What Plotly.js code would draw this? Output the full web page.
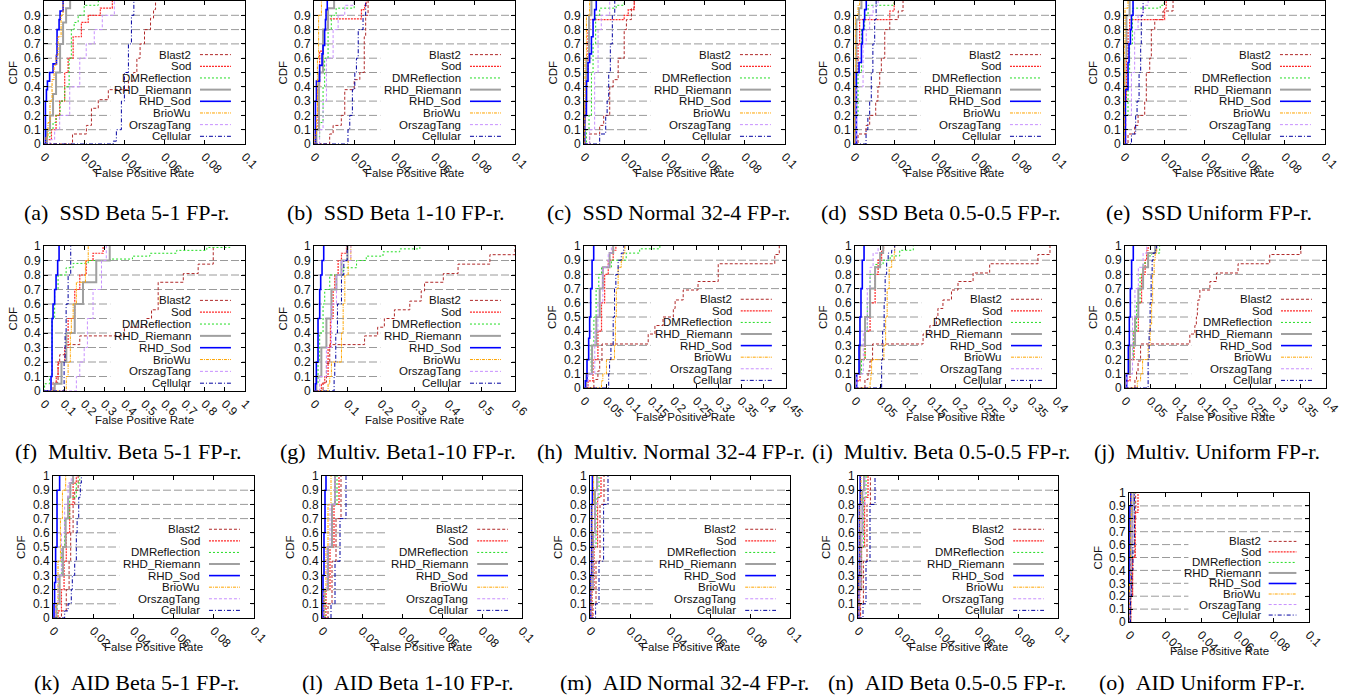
<!DOCTYPE html>
<html><head><meta charset="utf-8">
<script src="https://cdn.plot.ly/plotly-3.0.1.min.js"></script>
<style>html,body{margin:0;padding:0;background:#fff}#chart{width:1359px;height:698px}</style>
</head><body><div id="chart"></div>
<script>
// ---------------- DATA ----------------
const seriesNames = ['Blast2','Sod','DMReflection','RHD_Riemann','RHD_Sod','BrioWu','OrszagTang','Cellular'];
const captions = [
 '(a)\u00a0\u00a0SSD Beta 5-1 FP-r.','(b)\u00a0\u00a0SSD Beta 1-10 FP-r.','(c)\u00a0\u00a0SSD Normal 32-4 FP-r.','(d)\u00a0\u00a0SSD Beta 0.5-0.5 FP-r.','(e)\u00a0\u00a0SSD Uniform FP-r.',
 '(f)\u00a0\u00a0Multiv. Beta 5-1 FP-r.','(g)\u00a0\u00a0Multiv. Beta1-10 FP-r.','(h)\u00a0\u00a0Multiv. Normal 32-4 FP-r.','(i)\u00a0\u00a0Multiv. Beta 0.5-0.5 FP-r.','(j)\u00a0\u00a0Multiv. Uniform FP-r.',
 '(k)\u00a0\u00a0AID Beta 5-1 FP-r.','(l)\u00a0\u00a0AID Beta 1-10 FP-r.','(m)\u00a0\u00a0AID Normal 32-4 FP-r.','(n)\u00a0\u00a0AID Beta 0.5-0.5 FP-r.','(o)\u00a0\u00a0AID Uniform FP-r.'];
const xAxisMax = [0.1,0.1,0.1,0.1,0.1, 1,0.6,0.45,0.4,0.4, 0.1,0.1,0.1,0.1,0.1];
const xTickStep = [0.02,0.02,0.02,0.02,0.02, 0.1,0.1,0.05,0.05,0.05, 0.02,0.02,0.02,0.02,0.02];
const yTickStep = 0.1;
const xTitle = 'False Positive Rate';
const yTitle = 'CDF';

// Each panel: x and y arrays per series, in order of seriesNames
const aX = [
 [0,0.0142,0.0211,0.0236,0.027,0.032,0.042,0.0445,0.0462,0.0478,0.050,0.053,0.0545,0.0555],
 [0,0.001,0.0037,0.006,0.0078,0.0103,0.012,0.0145,0.0186,0.022,0.028,0.034],
 [0,0.001,0.003,0.0045,0.006,0.008,0.0103,0.0125,0.0136,0.015,0.017,0.02,0.027],
 [0,0.0015,0.003,0.0045,0.006,0.008,0.0095,0.011,0.013],
 [0,0.0007,0.0012,0.0017,0.0028,0.0045,0.0062,0.0065,0.0075,0.008,0.0095],
 [0,0.001,0.002,0.003,0.004,0.005,0.006,0.007,0.0085,0.0095],
 [0,0.003,0.0053,0.0078,0.0128,0.0178,0.021,0.025,0.029,0.035],
 [0,0.0344,0.036,0.0385,0.040,0.042,0.0435,0.0447]];
const aY = [
 [0,0.07,0.13,0.25,0.31,0.38,0.44,0.5,0.6,0.7,0.8,0.88,0.94,1],
 [0,0.03,0.1,0.2,0.3,0.5,0.6,0.75,0.85,0.9,0.95,1],
 [0,0.05,0.1,0.15,0.2,0.3,0.4,0.6,0.8,0.85,0.9,0.97,1],
 [0,0.1,0.2,0.35,0.5,0.7,0.85,0.95,1],
 [0,0.3,0.38,0.44,0.5,0.56,0.62,0.8,0.87,0.93,1],
 [0,0.05,0.15,0.3,0.45,0.55,0.62,0.75,0.9,1],
 [0,0.03,0.1,0.2,0.4,0.6,0.7,0.8,0.9,1],
 [0,0.02,0.1,0.3,0.5,0.7,0.9,1]];

const bX = [
 [0,0.0078,0.0095,0.0136,0.0153,0.020,0.0228,0.025,0.0257,0.0269],
 [0,0.0007,0.002,0.0028,0.0045,0.007,0.0236,0.0252,0.026],
 [0,0.0012,0.0028,0.0045,0.0053,0.007,0.0086,0.011,0.020],
 [0,0.0012,0.0025,0.0045,0.007,0.010],
 [0,0.0007,0.0012,0.0028,0.004,0.0045,0.0053,0.0057,0.006,0.0066],
 [0,0.0005,0.0012,0.0017,0.0023,0.0037],
 [0,0.0028,0.0045,0.0062,0.0095,0.012,0.0153,0.020],
 [0,0.0169,0.0178,0.0191,0.0203,0.0211,0.022,0.0244,0.0257]];
const bY = [
 [0,0.07,0.13,0.2,0.38,0.45,0.5,0.75,0.9,1],
 [0,0.1,0.4,0.65,0.8,0.875,0.94,0.97,1],
 [0,0.05,0.15,0.4,0.6,0.8,0.9,0.95,1],
 [0,0.1,0.5,0.8,0.95,1],
 [0,0.3,0.44,0.55,0.63,0.69,0.8,0.87,0.94,1],
 [0,0.07,0.2,0.6,0.9,1],
 [0,0.1,0.3,0.6,0.8,0.9,0.97,1],
 [0,0.1,0.2,0.38,0.5,0.6,0.8,0.9,1]];

const cX = [
 [0,0.0028,0.0078,0.0098,0.0128,0.0145,0.017,0.020,0.0211,0.0236,0.025],
 [0,0.0001,0.0007,0.0012,0.002,0.0028,0.020,0.022,0.025],
 [0,0.0012,0.0025,0.0037,0.0045,0.0058,0.0078,0.016,0.020],
 [0,0.0003,0.0012,0.0025,0.0037],
 [0,0.0003,0.0012,0.002,0.0028,0.0037,0.0045,0.0053,0.0061],
 [0,0.0002,0.0005,0.0012,0.0028],
 [0,0.0028,0.0053,0.007,0.0086,0.0128],
 [0,0.0078,0.0108,0.0115,0.0123,0.0131,0.0141,0.0153]];
const cY = [
 [0,0.07,0.13,0.2,0.4,0.45,0.6,0.8,0.87,0.95,1],
 [0,0.15,0.3,0.5,0.8,0.87,0.9,0.94,1],
 [0,0.1,0.2,0.5,0.7,0.9,0.95,0.97,1],
 [0,0.3,0.6,0.9,1],
 [0,0.2,0.44,0.57,0.63,0.75,0.87,0.94,1],
 [0,0.3,0.6,0.9,1],
 [0,0.1,0.5,0.8,0.9,1],
 [0,0.07,0.2,0.3,0.5,0.7,0.9,1]];

const dX = [
 [0,0.002,0.006,0.0078,0.0108,0.0119,0.0128,0.0136,0.0153,0.0178,0.022,0.0244],
 [0,0.0003,0.0012,0.002,0.0028,0.0178,0.020],
 [0,0.0003,0.0012,0.002,0.0037,0.0053,0.007,0.020],
 [0,0.0003,0.0012,0.0025,0.0037],
 [0,0.0012,0.0025,0.0037,0.0042,0.0048,0.0053,0.0061],
 [0,0.0002,0.0007,0.002,0.0028],
 [0,0.0012,0.0045,0.0061,0.0078,0.0095,0.012],
 [0,0.006,0.0069,0.0078,0.0086,0.0094,0.0103,0.011]];
const dY = [
 [0,0.07,0.13,0.2,0.3,0.4,0.5,0.6,0.8,0.87,0.93,1],
 [0,0.2,0.5,0.7,0.87,0.93,1],
 [0,0.1,0.2,0.5,0.8,0.9,0.97,1],
 [0,0.5,0.87,0.95,1],
 [0,0.5,0.57,0.7,0.8,0.87,0.94,1],
 [0,0.5,0.9,0.97,1],
 [0,0.4,0.7,0.8,0.9,0.97,1],
 [0,0.1,0.2,0.3,0.5,0.7,0.87,1]];

const eX = [
 [0,0.002,0.0053,0.007,0.0103,0.0111,0.0128,0.0136,0.0153,0.0194,0.0244],
 [0,0.0003,0.0012,0.002,0.0028,0.0202,0.021],
 [0,0.0008,0.002,0.0028,0.0042,0.018,0.020],
 [0,0.0003,0.0012,0.0028],
 [0,0.0007,0.002,0.0025,0.0032,0.0037,0.0045],
 [0,0.0002,0.0005,0.002],
 [0,0.0012,0.0037,0.0053,0.007,0.0095,0.012],
 [0,0.0037,0.0058,0.0065,0.0075,0.0083,0.0086,0.0095]];
const eY = [
 [0,0.07,0.13,0.2,0.3,0.5,0.6,0.8,0.87,0.93,1],
 [0,0.3,0.6,0.8,0.87,0.95,1],
 [0,0.2,0.5,0.7,0.95,0.97,1],
 [0,0.6,0.9,1],
 [0,0.38,0.57,0.7,0.8,0.9,1],
 [0,0.7,0.95,1],
 [0,0.2,0.5,0.8,0.9,0.97,1],
 [0,0.07,0.2,0.3,0.5,0.7,0.9,1]];

const fX = [
 [0,0.045,0.07,0.078,0.111,0.178,0.40,0.51,0.535,0.568,0.693,0.767,0.842],
 [0,0.053,0.061,0.07,0.103,0.12,0.153,0.178,0.21,0.244,0.294],
 [0,0.003,0.028,0.04,0.053,0.07,0.11,0.145,0.22,0.33,0.44,0.527,0.66,0.81,0.925],
 [0,0.053,0.087,0.111,0.153,0.194,0.26,0.327],
 [0,0.035,0.04,0.045,0.053,0.06,0.068,0.075],
 [0,0.111,0.12,0.131,0.136,0.145,0.161,0.206,0.22],
 [0,0.161,0.178,0.2,0.216,0.244,0.286,0.31],
 [0,0.1,0.105,0.11,0.12,0.133]];
const fY = [
 [0,0.06,0.19,0.25,0.32,0.38,0.44,0.5,0.56,0.75,0.81,0.875,1],
 [0,0.05,0.1,0.2,0.3,0.5,0.7,0.8,0.9,0.95,1],
 [0,0.05,0.1,0.5,0.7,0.8,0.85,0.88,0.9,0.91,0.93,0.95,0.97,0.99,1],
 [0,0.05,0.2,0.4,0.6,0.75,0.9,1],
 [0,0.1,0.5,0.6,0.7,0.8,0.9,1],
 [0,0.1,0.2,0.4,0.5,0.6,0.75,0.9,1],
 [0,0.1,0.2,0.3,0.5,0.7,0.9,1],
 [0,0.2,0.4,0.6,0.8,1]];

const gX = [
 [0,0.027,0.037,0.047,0.151,0.19,0.21,0.24,0.286,0.32,0.33,0.386,0.43,0.525,0.6],
 [0,0.022,0.032,0.042,0.049,0.057,0.062,0.072,0.082,0.097],
 [0,0.007,0.012,0.017,0.027,0.032,0.047,0.087,0.127,0.156,0.206,0.256,0.316],
 [0,0.007,0.022,0.037,0.052,0.067,0.082,0.10],
 [0,0.004,0.007,0.012,0.017,0.02,0.024,0.029],
 [0,0.042,0.047,0.052,0.082,0.087,0.092,0.102,0.11],
 [0,0.017,0.037,0.052,0.067,0.082,0.11],
 [0,0.06,0.062,0.065,0.07,0.082,0.089,0.099]];
const gY = [
 [0,0.06,0.19,0.32,0.38,0.44,0.5,0.56,0.62,0.69,0.75,0.81,0.875,0.94,1],
 [0,0.05,0.1,0.3,0.5,0.7,0.8,0.9,0.95,1],
 [0,0.05,0.2,0.4,0.6,0.7,0.8,0.85,0.9,0.93,0.96,0.98,1],
 [0,0.1,0.3,0.5,0.7,0.8,0.9,1],
 [0,0.05,0.2,0.5,0.7,0.8,0.9,1],
 [0,0.05,0.1,0.2,0.4,0.6,0.8,0.9,1],
 [0,0.1,0.3,0.6,0.8,0.9,1],
 [0,0.1,0.2,0.4,0.6,0.8,0.9,1]];

const hX = [
 [0,0.022,0.031,0.035,0.04,0.143,0.158,0.176,0.199,0.203,0.221,0.254,0.299,0.425,0.435],
 [0,0.009,0.02,0.031,0.039,0.046,0.054,0.065,0.071],
 [0,0.005,0.016,0.022,0.027,0.033,0.039,0.061,0.094,0.124,0.169],
 [0,0.005,0.018,0.0275,0.035,0.042,0.057,0.065],
 [0,0.003,0.0067,0.0104,0.0126,0.0149,0.018,0.0216],
 [0,0.039,0.042,0.05,0.068,0.07,0.072,0.076,0.083,0.087,0.091],
 [0,0.009,0.024,0.031,0.042,0.054,0.061],
 [0,0.055,0.057,0.06,0.065,0.068,0.071,0.076,0.083,0.0885]];
const hY = [
 [0,0.06,0.12,0.19,0.31,0.38,0.44,0.5,0.56,0.62,0.69,0.75,0.875,0.94,1],
 [0,0.05,0.2,0.4,0.6,0.8,0.9,0.97,1],
 [0,0.1,0.3,0.5,0.7,0.8,0.85,0.9,0.95,0.98,1],
 [0,0.1,0.3,0.5,0.7,0.85,0.95,1],
 [0,0.05,0.2,0.35,0.5,0.7,0.9,1],
 [0,0.05,0.1,0.2,0.3,0.5,0.7,0.85,0.9,0.95,1],
 [0,0.1,0.4,0.6,0.85,0.95,1],
 [0,0.1,0.2,0.3,0.5,0.7,0.8,0.9,0.95,1]];

const iX = [
 [0,0.0198,0.026,0.0298,0.035,0.1355,0.149,0.162,0.165,0.175,0.192,0.205,0.235,0.268,0.364,0.388],
 [0,0.0013,0.01,0.02,0.03,0.04,0.046,0.053,0.057],
 [0,0.0013,0.013,0.02,0.0245,0.03,0.04,0.056,0.07,0.089,0.116],
 [0,0.0013,0.01,0.02,0.03,0.04,0.05,0.056],
 [0,0.0033,0.008,0.0099,0.0119,0.0145,0.018],
 [0,0.03,0.0317,0.033,0.0575,0.061,0.064,0.068,0.073,0.078,0.079],
 [0,0.0033,0.0165,0.0245,0.03,0.036,0.046],
 [0,0.053,0.055,0.058,0.06,0.063,0.066,0.073,0.079]];
const iY = [
 [0,0.06,0.12,0.19,0.31,0.38,0.44,0.5,0.56,0.62,0.69,0.75,0.81,0.875,0.94,1],
 [0,0.05,0.2,0.4,0.6,0.8,0.9,0.97,1],
 [0,0.1,0.2,0.4,0.6,0.8,0.87,0.9,0.93,0.97,1],
 [0,0.1,0.3,0.5,0.7,0.85,0.95,1],
 [0,0.1,0.3,0.5,0.7,0.9,1],
 [0,0.05,0.1,0.2,0.3,0.5,0.7,0.85,0.9,0.95,1],
 [0,0.1,0.4,0.7,0.85,0.95,1],
 [0,0.2,0.4,0.6,0.8,0.9,0.95,0.97,1]];

const jX = [
 [0,0.0198,0.023,0.026,0.031,0.129,0.139,0.142,0.144,0.145,0.149,0.169,0.182,0.225,0.288,0.35],
 [0,0.0013,0.01,0.018,0.0265,0.033,0.04,0.043,0.046],
 [0,0.0005,0.01,0.0165,0.023,0.03,0.036,0.046,0.053,0.069],
 [0,0.0013,0.01,0.02,0.0265,0.036,0.046,0.06],
 [0,0.0033,0.0066,0.0086,0.0106,0.0132,0.0165],
 [0,0.0245,0.031,0.035,0.046,0.05,0.053,0.055,0.058,0.06,0.063],
 [0,0.0033,0.015,0.0198,0.0265,0.036,0.043],
 [0,0.046,0.048,0.05,0.052,0.054,0.056,0.06,0.063]];
const jY = [
 [0,0.06,0.12,0.19,0.31,0.38,0.44,0.5,0.56,0.62,0.69,0.75,0.81,0.875,0.94,1],
 [0,0.05,0.2,0.4,0.6,0.8,0.9,0.97,1],
 [0,0.1,0.2,0.4,0.6,0.8,0.88,0.93,0.95,1],
 [0,0.1,0.3,0.5,0.7,0.85,0.95,1],
 [0,0.1,0.3,0.5,0.7,0.9,1],
 [0,0.05,0.1,0.2,0.3,0.45,0.6,0.8,0.9,0.95,1],
 [0,0.1,0.5,0.7,0.85,0.95,1],
 [0,0.2,0.4,0.6,0.8,0.9,0.95,0.97,1]];

const kX = [
 [0,0.0042,0.0066,0.008,0.0088,0.01,0.0108,0.0125],
 [0,0.0025,0.0042,0.0055,0.0066,0.0083,0.01,0.0116],
 [0,0.002,0.003,0.0042,0.0058,0.0083,0.0116,0.0133],
 [0,0.0017,0.0033,0.005,0.0063,0.0075,0.0086,0.01],
 [0,0.0005,0.0008,0.0013,0.002,0.0033],
 [0,0.0013,0.0025,0.0037,0.0047,0.0063],
 [0,0.0013,0.0025,0.0042,0.0058,0.0075,0.0091],
 [0,0.0058,0.0075,0.0091,0.0096,0.0108,0.0116,0.012,0.0128,0.0136,0.0141]];
const kY = [
 [0,0.05,0.2,0.4,0.6,0.8,0.9,1],
 [0,0.05,0.2,0.4,0.6,0.8,0.95,1],
 [0,0.1,0.3,0.5,0.7,0.85,0.95,1],
 [0,0.1,0.3,0.5,0.7,0.85,0.95,1],
 [0,0.1,0.25,0.5,0.9,1],
 [0,0.1,0.4,0.7,0.9,1],
 [0,0.1,0.3,0.6,0.8,0.95,1],
 [0,0.05,0.1,0.2,0.3,0.4,0.6,0.7,0.85,0.95,1]];

const lX = [
 [0,0.003,0.005,0.007,0.0095],
 [0,0.002,0.004,0.006,0.0085],
 [0,0.0015,0.003,0.005,0.0075],
 [0,0.001,0.003,0.005,0.0065],
 [0,0.0005,0.001,0.0015,0.002],
 [0,0.001,0.002,0.003,0.0045],
 [0,0.001,0.0025,0.004,0.0065],
 [0,0.0045,0.0065,0.009,0.012]];
const lY = [
 [0,0.1,0.4,0.7,1],
 [0,0.2,0.5,0.8,1],
 [0,0.2,0.5,0.8,1],
 [0,0.2,0.5,0.8,1],
 [0,0.3,0.6,0.9,1],
 [0,0.2,0.5,0.8,1],
 [0,0.2,0.5,0.8,1],
 [0,0.1,0.4,0.7,1]];

const mX = [
 [0,0.0015,0.003,0.005,0.007],
 [0,0.001,0.002,0.0038,0.0055],
 [0,0.0008,0.0018,0.003,0.0045],
 [0,0.0005,0.0015,0.0025,0.0035],
 [0,0.0003,0.0008,0.0012],
 [0,0.0005,0.001,0.0018],
 [0,0.0005,0.0015,0.0025,0.004],
 [0,0.0028,0.0045,0.0068,0.009]];
const mY = [
 [0,0.1,0.4,0.8,1],
 [0,0.2,0.5,0.85,1],
 [0,0.2,0.5,0.85,1],
 [0,0.2,0.6,0.9,1],
 [0,0.3,0.8,1],
 [0,0.3,0.8,1],
 [0,0.2,0.5,0.8,1],
 [0,0.1,0.4,0.8,1]];

const nX = [
 [0,0.0013,0.0027,0.0045,0.0062],
 [0,0.0009,0.0018,0.0033,0.005],
 [0,0.0007,0.0016,0.0027,0.004],
 [0,0.0005,0.0013,0.0022,0.003],
 [0,0.0003,0.0007,0.0011],
 [0,0.0004,0.0009,0.0015],
 [0,0.0005,0.0013,0.0022,0.0035],
 [0,0.0025,0.004,0.006,0.0085]];
const nY = [
 [0,0.1,0.4,0.8,1],
 [0,0.2,0.5,0.85,1],
 [0,0.2,0.5,0.85,1],
 [0,0.2,0.6,0.9,1],
 [0,0.3,0.8,1],
 [0,0.3,0.8,1],
 [0,0.2,0.5,0.8,1],
 [0,0.1,0.4,0.8,1]];

const oX = [
 [0,0.001,0.002,0.0032,0.0037],
 [0,0.001,0.002,0.0035,0.005],
 [0,0.0005,0.0012,0.002,0.003],
 [0,0.0004,0.001,0.0018,0.0025],
 [0,0.0002,0.0005,0.001],
 [0,0.0003,0.0008,0.0012],
 [0,0.0004,0.001,0.002,0.0028],
 [0,0.0008,0.0015,0.0022,0.003]];
const oY = [
 [0,0.2,0.5,0.8,1],
 [0,0.2,0.5,0.85,1],
 [0,0.2,0.5,0.85,1],
 [0,0.2,0.6,0.9,1],
 [0,0.3,0.9,1],
 [0,0.3,0.8,1],
 [0,0.2,0.5,0.8,1],
 [0,0.2,0.4,0.6,1]];

const panelX = [aX,bX,cX,dX,eX,fX,gX,hX,iX,jX,kX,lX,mX,nX,oX];
const panelY = [aY,bY,cY,dY,eY,fY,gY,hY,iY,jY,kY,lY,mY,nY,oY];

// ---------------- STYLE / LAYOUT ----------------
const W = 1359, H = 698;
// plot boxes in pixels: [left, right, top, bottom]
const boxes = [
 [44,245,1,144],[314,515,1,144],[584,785,1,144],[854,1055,1,144],[1124,1325,1,144],
 [44,245,246,391],[314,515,246,391],[584,786,246,388],[855,1056,246,388],[1125,1326,246,388],
 [53,254,476,618],[322,522,476,618],[590,790,476,618],[858,1058,476,618],[1129,1309,493,622]];
const captionPos = [
 [126,213],[396,213],[668,213],[941,213],[1209,213],
 [128,451],[398,451],[671,451],[941,451],[1207,451],
 [136,682],[408,682],[684,682],[947,682],[1202,682]];
const seriesStyle = [
 {color:'#b02828', width:1, dash:'3px,2px'},
 {color:'#ff2a2a', width:1.2, dash:'2px,1px'},
 {color:'#22dd22', width:1, dash:'2px,2px'},
 {color:'#a0a0a0', width:2, dash:'solid'},
 {color:'#0000ff', width:1.6, dash:'solid'},
 {color:'#ffa500', width:1, dash:'3px,1px,1px,1px'},
 {color:'#c890ff', width:1, dash:'3px,2px'},
 {color:'#0000a0', width:1, dash:'4px,2px,1px,2px'}];
const sansFont = 'Liberation Sans, Arial, sans-serif';
const serifFont = 'Liberation Serif, Times New Roman, serif';
const gridStyle = {color:'#9a9a9a', width:1, dash:'8px,3px'};

const traces = [], shapes = [], annotations = [];
const layout = {width:W, height:H, margin:{l:0,r:0,t:0,b:0}, paper_bgcolor:'#fff', plot_bgcolor:'#fff', showlegend:false};

panelX.forEach((px, p) => {
  const n = p === 0 ? '' : String(p+1);
  const [L,R,T,B] = boxes[p];
  const xa = 'x'+n, ya = 'y'+n;
  layout['xaxis'+n] = {
    domain:[L/W, R/W], anchor:ya, range:[0, xAxisMax[p]], tick0:0, dtick:xTickStep[p],
    tickangle:45, ticks:'inside', ticklen:4, tickcolor:'#000', showline:true, linecolor:'#000', linewidth:1,
    mirror:'ticks', showgrid:false, zeroline:false, tickfont:{family:sansFont, size:12, color:'#111'}, fixedrange:true };
  layout['yaxis'+n] = {
    domain:[1-B/H, 1-T/H], anchor:xa, range:[0,1], tick0:0, dtick:yTickStep,
    ticks:'inside', ticklen:4, tickcolor:'#000', showline:true, linecolor:'#000', linewidth:1, mirror:'ticks',
    showgrid:false, zeroline:false, tickfont:{family:sansFont, size:12, color:'#111'}, fixedrange:true };
  // horizontal grid lines at the y ticks (drawn as shapes so the key box can mask them)
  for (let k = 1; k < Math.round(1/yTickStep); k++) {
    const gy = k*yTickStep;
    shapes.push({type:'line', xref:xa+' domain', yref:ya, x0:0, x1:1, y0:gy, y1:gy, line:gridStyle, layer:'below'});
  }
  // key box hides grid
  shapes.push({type:'rect', xref:xa+' domain', yref:ya+' domain', x0:0.33, x1:0.985, y0:0.015, y1:0.665,
    fillcolor:'#fff', line:{width:0}, layer:'below'});
  seriesNames.forEach((name, s) => {
    const st = seriesStyle[s];
    traces.push({type:'scatter', mode:'lines', x:px[s], y:panelY[p][s], xaxis:xa, yaxis:ya, name:name,
      line:{shape:'hv', color:st.color, width:st.width, dash:st.dash}, hoverinfo:'skip', showlegend:false});
    const ly = 0.625 - s*0.0816;
    annotations.push({xref:xa+' domain', yref:ya+' domain', x:0.742, y:ly, xanchor:'right', yanchor:'middle',
      text:name, showarrow:false, font:{family:sansFont, size:11.5, color:'#111'}});
    shapes.push({type:'line', xref:xa+' domain', yref:ya+' domain', x0:0.776, x1:0.93, y0:ly, y1:ly,
      line:{color:st.color, width:st.width, dash:st.dash}, layer:'above'});
  });
  annotations.push({xref:xa+' domain', yref:ya+' domain', x:0.5, y:0, yshift:-29, xanchor:'center', yanchor:'middle',
    text:xTitle, showarrow:false, font:{family:sansFont, size:11.5, color:'#111'}});
  annotations.push({xref:xa+' domain', yref:ya+' domain', x:0, y:0.5, xshift:-32, xanchor:'center', yanchor:'middle',
    text:yTitle, textangle:-90, showarrow:false, font:{family:sansFont, size:11.5, color:'#111'}});
  annotations.push({xref:'paper', yref:'paper', x:captionPos[p][0]/W, y:1-captionPos[p][1]/H, xanchor:'center', yanchor:'middle',
    text:captions[p], showarrow:false, font:{family:serifFont, size:22, color:'#000'}});
});
layout.shapes = shapes;
layout.annotations = annotations;
Plotly.newPlot('chart', traces, layout, {staticPlot:true, displayModeBar:false});
</script>
</body></html>
